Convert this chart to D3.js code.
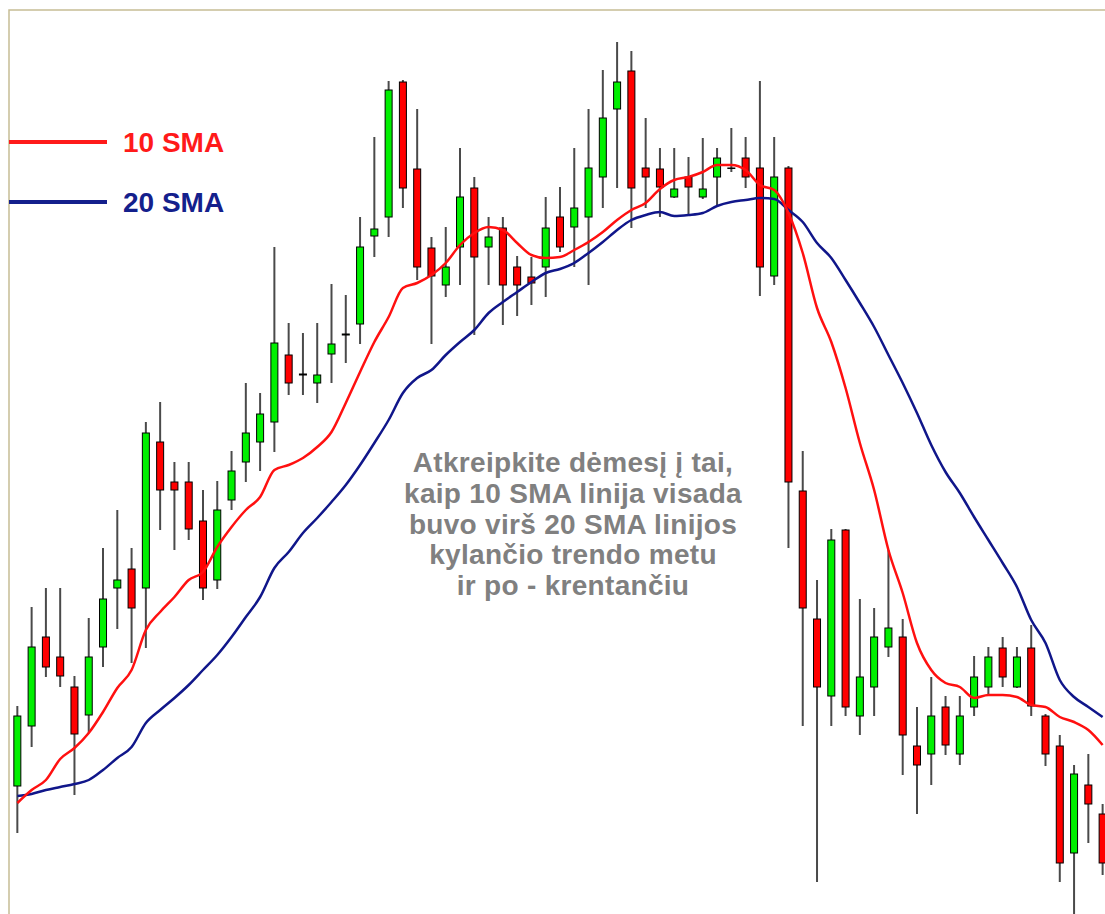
<!DOCTYPE html>
<html>
<head>
<meta charset="utf-8">
<script src="https://cdnjs.cloudflare.com/ajax/libs/d3/7.8.5/d3.min.js"></script>
<style>
  body { margin: 0; background: #fff; }
  svg { display: block; }
</style>
</head>
<body>
<div id="chart"></div>
<script>
var opens = [21.4, 27.4, 36.3, 34.3, 31.3, 28.5, 35.3, 41.2, 43.1, 41.2, 55.8, 51.8, 51.8, 47.9, 42.0, 50.0, 53.8, 55.8, 57.8, 64.5,
    62.6, 61.7, 64.6, 66.5, 67.6, 76.4, 78.3, 91.8, 83.1, 75.2, 71.5, 75.3, 81.2, 75.3, 77.2, 73.3, 72.3, 73.3, 78.3, 77.3,
    78.3, 82.3, 89.1, 92.9, 83.2, 83.1, 80.3, 82.3, 80.3, 82.3, 83.2, 84.2, 83.2, 72.4, 83.2, 50.9, 38.1, 30.4, 47.0, 28.4,
    31.3, 35.3, 36.3, 25.4, 24.6, 29.3, 24.6, 29.3, 31.3, 35.2, 31.3, 35.2, 28.4, 25.4, 14.7, 21.5, 18.6];
var highs = [29.4, 39.3, 41.2, 41.2, 32.4, 38.2, 45.2, 49.0, 45.2, 57.8, 59.8, 53.8, 53.8, 51.0, 51.9, 54.9, 61.7, 60.7, 75.3, 67.7,
    66.7, 67.7, 71.6, 70.5, 78.3, 86.3, 91.9, 92.0, 89.1, 76.3, 77.3, 85.2, 82.3, 78.3, 78.3, 74.4, 74.3, 80.3, 81.3, 85.2,
    89.1, 93.0, 95.8, 94.9, 88.2, 85.2, 85.2, 84.3, 86.2, 85.2, 87.2, 86.3, 91.9, 86.3, 83.4, 54.9, 42.0, 47.1, 47.1, 40.1,
    39.2, 45.0, 38.1, 29.3, 32.3, 30.4, 30.4, 34.4, 35.3, 36.3, 35.3, 37.5, 28.6, 26.5, 23.5, 24.6, 19.6];
var lows = [16.7, 25.3, 32.3, 31.3, 20.5, 26.7, 33.3, 37.1, 33.7, 35.2, 47.0, 45.0, 46.0, 40.0, 41.1, 49.0, 51.8, 52.9, 54.8, 60.5,
    60.5, 59.7, 61.7, 63.7, 65.6, 74.3, 76.3, 79.2, 72.0, 65.6, 70.3, 71.5, 66.5, 71.5, 67.5, 68.4, 69.5, 70.3, 74.8, 73.3,
    71.5, 79.2, 81.2, 77.2, 79.2, 78.3, 80.2, 78.5, 80.1, 79.5, 82.8, 81.2, 70.4, 71.5, 45.2, 27.4, 11.8, 27.4, 28.4, 26.5,
    28.4, 34.3, 22.5, 18.6, 21.5, 24.5, 23.5, 28.4, 30.4, 31.3, 31.2, 28.4, 23.4, 11.8, 8.0, 15.7, 12.5];
var closes = [28.4, 35.3, 33.3, 32.4, 26.6, 34.3, 40.1, 42.0, 39.2, 56.7, 51.0, 51.0, 47.1, 41.2, 49.0, 52.9, 56.7, 58.6, 65.7, 61.7,
    62.5, 62.5, 65.6, 66.6, 75.3, 77.1, 91.0, 81.2, 73.3, 72.4, 73.3, 80.3, 74.3, 76.3, 71.5, 71.5, 71.7, 77.2, 75.3, 79.2,
    83.2, 88.2, 91.8, 81.2, 82.3, 81.3, 81.1, 81.3, 81.1, 84.2, 83.2, 82.3, 73.3, 82.3, 51.8, 39.2, 31.3, 46.0, 29.3, 32.3,
    36.3, 37.2, 26.5, 23.5, 28.4, 25.5, 28.4, 32.3, 34.3, 32.3, 34.3, 29.4, 24.6, 13.7, 22.6, 19.6, 13.7];

var sma10 = [19.7, 21.0, 22.0, 24.1, 25.2, 26.7, 28.8, 31.2, 33.0, 37.0, 38.8, 40.3, 42.0, 42.8, 45.3, 47.3, 49.0, 50.3, 53.0, 53.5,
    54.2, 55.3, 56.8, 59.7, 62.8, 65.8, 68.3, 71.2, 71.7, 72.5, 73.7, 75.5, 76.7, 77.3, 77.0, 75.7, 74.5, 74.2, 74.3, 75.0,
    75.8, 76.8, 78.0, 79.0, 79.7, 81.1, 82.0, 82.3, 82.8, 83.5, 83.5, 83.0, 81.5, 81.0, 78.7, 74.7, 69.2, 65.8, 61.2, 55.7,
    51.0, 45.0, 40.7, 35.7, 33.0, 31.7, 31.3, 30.2, 30.5, 30.5, 30.3, 29.5, 29.3, 28.3, 27.8, 27.0, 25.5];
var sma20 = [20.4, 20.6, 21.0, 21.3, 21.6, 22.0, 23.0, 24.2, 25.3, 27.7, 29.0, 30.2, 31.5, 33.0, 34.5, 36.3, 38.3, 40.3, 43.2, 44.8,
    46.7, 48.2, 49.8, 51.5, 53.5, 55.7, 58.0, 60.7, 62.2, 63.0, 64.5, 65.8, 67.0, 68.7, 69.8, 70.8, 71.8, 72.7, 73.1, 73.7,
    74.7, 75.8, 77.0, 78.0, 78.5, 78.8, 78.4, 78.5, 78.7, 79.4, 79.8, 80.0, 80.2, 80.1, 79.0, 77.8, 75.7, 74.2, 72.0, 69.7,
    67.3, 64.5, 61.7, 58.7, 55.5, 52.8, 50.7, 48.3, 46.0, 43.7, 41.3, 38.0, 35.7, 32.0, 30.3, 29.3, 28.3];

var legendLabels = ["10 SMA", "20 SMA"];
var noteLines = ["Atkreipkite dėmesį į tai,", "kaip 10 SMA linija visada", "buvo virš 20 SMA linijos",
    "kylančio trendo metu", "ir po - krentančiu"];

function drawChart() {
    var w = 1105;
    var h = 914;

    var svg = d3.select("#chart")
                .append("svg")
                .attr("width", w)
                .attr("height", h);

    var x = d3.scaleBand()
                .domain(d3.range(opens.length))
                .range([10.2, 10.2 + 14.28 * opens.length]);

    var y = d3.scaleLinear()
                .domain([8.6, 100])
                .range([h, 0]);

    // frame (top and left only, right side is cut off)
    svg.append("path")
        .attr("d", "M9,914 V10 H1105")
        .attr("fill", "none")
        .attr("stroke", "#c6bd95")
        .attr("stroke-width", 1.5);

    var cx = function(i){ return x(i) + x.bandwidth() / 2; };

    var candles = svg.selectAll("g.candle")
                    .data(d3.range(opens.length))
                    .enter()
                    .append("g")
                    .attr("class", "candle");

    candles.append("line")
        .attr("x1", cx)
        .attr("x2", cx)
        .attr("y1", function(i){ return y(highs[i]); })
        .attr("y2", function(i){ return y(lows[i]); })
        .attr("stroke", "#4a4a4a")
        .attr("stroke-width", 2);

    candles.append("rect")
        .attr("x", function(i){ return cx(i) - 3.5; })
        .attr("width", 7)
        .attr("y", function(i){ return y(Math.max(opens[i], closes[i])); })
        .attr("height", function(i){
            return Math.max(0.5, Math.abs(y(opens[i]) - y(closes[i])));
        })
        .attr("fill", function(i){
            return closes[i] >= opens[i] ? "#00f000" : "#ff0000";
        })
        .attr("stroke", "#000")
        .attr("stroke-width", 1);

    var line = d3.line()
                .x(function(d, i){ return cx(i); })
                .y(function(d){ return y(d); })
                .curve(d3.curveMonotoneX);

    svg.append("path")
        .attr("d", line(sma20))
        .attr("fill", "none")
        .attr("stroke", "#10168a")
        .attr("stroke-width", 2.5);

    svg.append("path")
        .attr("d", line(sma10))
        .attr("fill", "none")
        .attr("stroke", "#ff1010")
        .attr("stroke-width", 2.5);

    // legend
    var legendColors = ["#ff1a1a", "#14208c"];
    var leg = svg.selectAll("g.legend")
                .data(legendLabels)
                .enter()
                .append("g")
                .attr("class", "legend")
                .attr("transform", function(d, i){ return "translate(0," + (142 + i * 60) + ")"; });

    leg.append("line")
        .attr("x1", 9)
        .attr("x2", 107)
        .attr("stroke", function(d, i){ return legendColors[i]; })
        .attr("stroke-width", 4);

    leg.append("text")
        .attr("x", 123)
        .attr("y", 10)
        .text(function(d){ return d; })
        .style("font-family", "'Liberation Sans', Arial, sans-serif")
        .style("font-weight", "bold")
        .style("font-size", "28px")
        .style("fill", function(d, i){ return legendColors[i]; });

    // note
    svg.selectAll("text.note")
        .data(noteLines)
        .enter()
        .append("text")
        .attr("class", "note")
        .attr("x", 573)
        .attr("y", function(d, i){ return 472 + i * 30.8; })
        .attr("text-anchor", "middle")
        .text(function(d){ return d; })
        .style("font-family", "'Liberation Sans', Arial, sans-serif")
        .style("font-weight", "bold")
        .style("font-size", "28px")
        .style("letter-spacing", "0.3px")
        .style("fill", "#808080");
}

window.onload = drawChart;
</script>
</body>
</html>
